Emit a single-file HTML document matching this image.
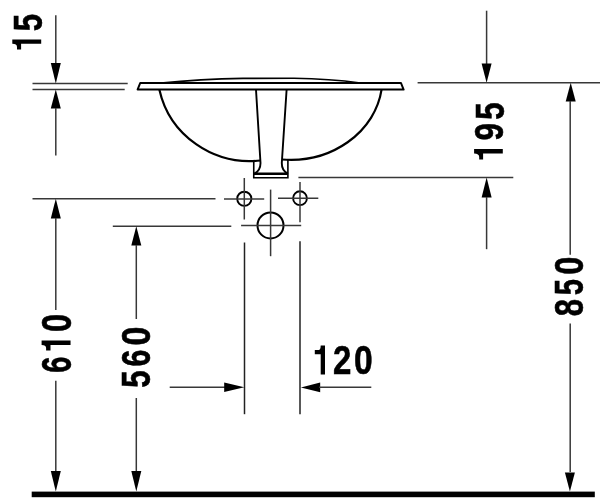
<!DOCTYPE html>
<html><head><meta charset="utf-8"><style>
html,body{margin:0;padding:0;background:#fff;width:600px;height:500px;overflow:hidden}
svg{display:block;filter:grayscale(1)}
text{font-family:"Liberation Sans",sans-serif;font-weight:bold;fill:#000}
</style></head><body>
<svg width="600" height="500" viewBox="0 0 600 500">
<rect width="600" height="500" fill="#fff"/>
<rect x="31.7" y="491.6" width="563.1" height="5.6" fill="#000"/>
<line x1="32.5" y1="83.5" x2="127.7" y2="83.5" stroke="#383838" stroke-width="1.5"/>
<line x1="32.5" y1="89.4" x2="124.7" y2="89.4" stroke="#383838" stroke-width="1.5"/>
<line x1="55.8" y1="15.2" x2="55.8" y2="64" stroke="#383838" stroke-width="1.5"/>
<polygon points="50.8,63 60.8,63 55.8,83.5" fill="#000"/>
<polygon points="50.8,108.6 60.8,108.6 55.8,89.4" fill="#000"/>
<line x1="55.8" y1="108" x2="55.8" y2="155.6" stroke="#383838" stroke-width="1.5"/>
<line x1="32.5" y1="198.7" x2="215.5" y2="198.7" stroke="#383838" stroke-width="1.5"/>
<polygon points="50.8,218.4 60.8,218.4 55.8,198.7" fill="#000"/>
<line x1="55.8" y1="218" x2="55.8" y2="310" stroke="#383838" stroke-width="1.5"/>
<line x1="55.8" y1="380.8" x2="55.8" y2="472" stroke="#383838" stroke-width="1.5"/>
<polygon points="50.8,471 60.8,471 55.8,491.5" fill="#000"/>
<line x1="112.8" y1="226.3" x2="231.3" y2="226.3" stroke="#383838" stroke-width="1.5"/>
<polygon points="131.3,245.6 141.3,245.6 136.3,226.3" fill="#000"/>
<line x1="136.3" y1="245" x2="136.3" y2="319" stroke="#383838" stroke-width="1.5"/>
<line x1="136.3" y1="398" x2="136.3" y2="472" stroke="#383838" stroke-width="1.5"/>
<polygon points="131.3,471 141.3,471 136.3,491.5" fill="#000"/>
<line x1="486.6" y1="10.7" x2="486.6" y2="64" stroke="#383838" stroke-width="1.5"/>
<polygon points="481.6,63.5 491.6,63.5 486.6,82.8" fill="#000"/>
<line x1="417.6" y1="82.8" x2="600" y2="82.8" stroke="#383838" stroke-width="1.5"/>
<line x1="298.4" y1="177.4" x2="513.3" y2="177.4" stroke="#383838" stroke-width="1.5"/>
<polygon points="481.6,197.5 491.6,197.5 486.6,177.4" fill="#000"/>
<line x1="486.6" y1="197" x2="486.6" y2="249.2" stroke="#383838" stroke-width="1.5"/>
<polygon points="565.7,101.6 575.7,101.6 570.7,82.8" fill="#000"/>
<line x1="570.2" y1="101" x2="570.2" y2="254.8" stroke="#383838" stroke-width="1.5"/>
<line x1="570.2" y1="323.6" x2="570.2" y2="472" stroke="#383838" stroke-width="1.5"/>
<polygon points="564.9,472.4 574.9,472.4 569.9,491.5" fill="#000"/>
<line x1="169.7" y1="387.3" x2="225" y2="387.3" stroke="#383838" stroke-width="1.5"/>
<polygon points="224.2,382.5 224.2,392.1 244.3,387.3" fill="#000"/>
<polygon points="320.2,382.59999999999997 320.2,392.2 300.9,387.4" fill="#000"/>
<line x1="319" y1="387.3" x2="371.3" y2="387.3" stroke="#383838" stroke-width="1.5"/>
<line x1="244.5" y1="242.5" x2="244.5" y2="414.2" stroke="#222" stroke-width="1.5"/>
<line x1="300" y1="241.2" x2="300" y2="414.2" stroke="#222" stroke-width="1.5"/>
<circle cx="244.3" cy="198.8" r="7.1" fill="none" stroke="#000" stroke-width="1.9"/>
<line x1="244.3" y1="178" x2="244.3" y2="219.5" stroke="#383838" stroke-width="1.5"/>
<line x1="224" y1="198.9" x2="264.2" y2="198.9" stroke="#383838" stroke-width="1.5"/>
<circle cx="300" cy="198.2" r="6.9" fill="none" stroke="#000" stroke-width="1.9"/>
<line x1="300" y1="182" x2="300" y2="222.3" stroke="#383838" stroke-width="1.5"/>
<line x1="278" y1="198.2" x2="318.3" y2="198.2" stroke="#383838" stroke-width="1.5"/>
<circle cx="270.5" cy="225.4" r="13" fill="none" stroke="#000" stroke-width="2"/>
<line x1="270.6" y1="189.6" x2="270.6" y2="256.2" stroke="#383838" stroke-width="1.5"/>
<line x1="241.1" y1="225.5" x2="301.2" y2="225.5" stroke="#383838" stroke-width="1.5"/>
<polygon points="140.2,83 401,83 403.6,89.6 137.6,89.6" fill="none" stroke="#000" stroke-width="2.0" stroke-linejoin="round"/>
<path d="M160.7,83 Q200,79.2 243,78.4 L294,78.3 Q330,78.8 360.3,83" fill="none" stroke="#000" stroke-width="1.6"/>
<path d="M159.39,89.7 A92.83,90.89 0 0 0 260.6,160.52" fill="none" stroke="#000" stroke-width="2.2"/>
<path d="M381.56,89.7 A92.0,81.23 0 0 1 282.0,159.52" fill="none" stroke="#000" stroke-width="2.2"/>
<path d="M256.0,89.7 L260.5,163 Q260.6,170.5 254.2,173.8" fill="none" stroke="#000" stroke-width="1.9"/>
<path d="M286.6,89.7 L281.8,163 Q281.6,170.5 288,173.8" fill="none" stroke="#000" stroke-width="1.9"/>
<path d="M253.75,160.2 L253.75,177.8 L287.9,177.8 L287.9,159.6" fill="none" stroke="#000" stroke-width="1.6"/>
<line x1="253.75" y1="173.8" x2="287.9" y2="173.8" stroke="#000" stroke-width="2.4"/>
<text transform="translate(41.60,31.32) rotate(-90) scale(0.3113,0.4104)" font-size="100" stroke="#000" stroke-width="1.4">5</text>
<path transform="translate(12.3,43.7) rotate(-90)" d="M0,0 L4.3,0 L4.3,28.9 L0,28.9 L0,8.8 L-5.8,8.8 L-5.8,4.7 L-3.3,4.7 Q0,4.7 0,0 Z" fill="#000"/>
<text transform="translate(503.50,119.72) rotate(-90) scale(0.3113,0.4146)" font-size="100" stroke="#000" stroke-width="1.4">5</text>
<text transform="translate(503.20,140.39) rotate(-90) scale(0.3148,0.4130)" font-size="100" stroke="#000" stroke-width="1.4">9</text>
<path transform="translate(474.1,153.5) rotate(-90)" d="M0,0 L4.4,0 L4.4,28.7 L0,28.7 L0,9.0 L-6.1,9.0 L-6.1,5.1 L-3.5,5.1 Q0,5.1 0,0 Z" fill="#000"/>
<text transform="translate(582.70,274.68) rotate(-90) scale(0.3264,0.4144)" font-size="100" stroke="#000" stroke-width="1.4">0</text>
<text transform="translate(582.80,295.17) rotate(-90) scale(0.2918,0.4132)" font-size="100" stroke="#000" stroke-width="1.4">5</text>
<text transform="translate(582.80,316.22) rotate(-90) scale(0.3113,0.4144)" font-size="100" stroke="#000" stroke-width="1.4">8</text>
<text transform="translate(71.09,331.88) rotate(-90) scale(0.3264,0.4199)" font-size="100" stroke="#000" stroke-width="1.4">0</text>
<path transform="translate(41.6,345) rotate(-90)" d="M0,0 L4.5,0 L4.5,28.95 L0,28.95 L0,8.9 L-5.6,8.9 L-5.6,4.5 L-3,4.5 Q0,4.5 0,0 Z" fill="#000"/>
<text transform="translate(71.19,372.86) rotate(-90) scale(0.2915,0.4164)" font-size="100" stroke="#000" stroke-width="1.4">6</text>
<text transform="translate(149.90,345.52) rotate(-90) scale(0.3388,0.4088)" font-size="100" stroke="#000" stroke-width="1.4">0</text>
<text transform="translate(150.30,366.50) rotate(-90) scale(0.3036,0.4144)" font-size="100" stroke="#000" stroke-width="1.4">6</text>
<text transform="translate(150.10,387.72) rotate(-90) scale(0.3113,0.4104)" font-size="100" stroke="#000" stroke-width="1.4">5</text>
<path transform="translate(320.7,345.4)" d="M0,0 L4.3,0 L4.3,29 L0,29 L0,8.9 L-5.9,8.9 L-5.9,4.7 L-2.7,4.7 Q0,4.7 0,0 Z" fill="#000"/>
<text transform="translate(332.99,373.92) scale(0.3304,0.4034)" font-size="100" stroke="#000" stroke-width="1.4">2</text>
<text transform="translate(353.89,374.30) scale(0.3357,0.4144)" font-size="100" stroke="#000" stroke-width="1.4">0</text>
</svg>
</body></html>
